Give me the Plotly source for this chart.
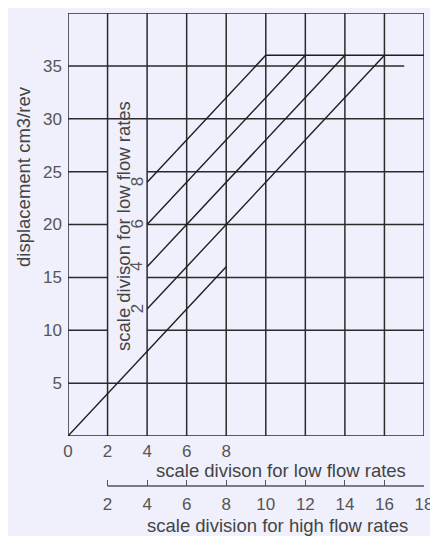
import plotly.graph_objects as go

# ---------------- data ----------------
x_grid = [0, 2, 4, 6, 8, 10, 12, 14, 16, 18]
low_tick_text = ["0", "2", "4", "6", "8", "", "", "", "", ""]
high_tick_vals = [2, 4, 6, 8, 10, 12, 14, 16, 18]
y_tick_vals = [5, 10, 15, 20, 25, 30, 35]
y_range = [0, 40]
h_grid_y = [0, 5, 10, 15, 20, 25, 30, 35, 40]
gap_rows = [10, 15, 20, 25]          # rows interrupted by the inner scale title
gap_cell = [2, 4]
short_row = 35                        # this row stops before the right border
short_row_end = 17

# diagonal scale lines (start point -> end point)
diag_x0 = [0, 4, 4, 4, 4]
diag_y0 = [0, 12, 16, 20, 24]
diag_x1 = [8, 16, 14, 12, 10]
diag_y1 = [16, 36, 36, 36, 36]
cap_y = 36
cap_x = [10, 18]

# inner (rotated) low-flow scale labels
inner_labels = ["2", "4", "6", "8"]
inner_x = [4, 4, 4, 4]
inner_y = [12, 16, 20, 24]

ink = "#2b2b2b"
txt = "#555555"
bg = "#eff0fb"
font = "Liberation Sans, Arial, sans-serif"

fig = go.Figure()

# vertical grid lines
vx, vy = [], []
for x in x_grid:
    vx += [x, x, None]
    vy += [y_range[0], y_range[1], None]
fig.add_trace(go.Scatter(x=vx, y=vy, mode="lines",
                         line=dict(color=ink, width=1.5),
                         hoverinfo="skip", showlegend=False, cliponaxis=False))

# horizontal grid lines
hx, hy = [], []
for y in h_grid_y:
    if y in gap_rows:
        segs = [(x_grid[0], gap_cell[0]), (gap_cell[1], x_grid[-1])]
    elif y == short_row:
        segs = [(x_grid[0], short_row_end)]
    else:
        segs = [(x_grid[0], x_grid[-1])]
    for a, b in segs:
        hx += [a, b, None]
        hy += [y, y, None]
fig.add_trace(go.Scatter(x=hx, y=hy, mode="lines",
                         line=dict(color=ink, width=1.5),
                         hoverinfo="skip", showlegend=False, cliponaxis=False))

# diagonal lines
dx, dy = [], []
for a, b, c, d in zip(diag_x0, diag_y0, diag_x1, diag_y1):
    dx += [a, c, None]
    dy += [b, d, None]
dx += [cap_x[0], cap_x[1], None]
dy += [cap_y, cap_y, None]
fig.add_trace(go.Scatter(x=dx, y=dy, mode="lines",
                         line=dict(color="#1e1e1e", width=1.4),
                         hoverinfo="skip", showlegend=False, cliponaxis=False))

# invisible trace to activate the second x-axis
fig.add_trace(go.Scatter(x=[high_tick_vals[0], high_tick_vals[-1]], y=[0, 0],
                         xaxis="x2", mode="markers", opacity=0,
                         hoverinfo="skip", showlegend=False))

# ----------- layout (screen px, compensating the 8px page margin) -----------
OFF = 8
W, H = 438 - OFF, 536 - OFF
plot_left, plot_right, plot_top, plot_bottom = 68 - OFF, 424 - OFF, 13 - OFF, 436 - OFF
ml, mr, mt, mb = plot_left, W - plot_right, plot_top, 0
paper_w = W - ml - mr
paper_h = H - mt - mb


def px_x(sx):
    return (sx - OFF - ml) / paper_w


def px_y(sy):
    return (H - mb - (sy - OFF)) / paper_h


y_dom0 = (H - mb - plot_bottom) / paper_h
axis2_pos = px_y(486)

fig.update_layout(
    template="none",
    width=W, height=H,
    margin=dict(l=ml, r=mr, t=mt, b=mb, autoexpand=False),
    paper_bgcolor=bg, plot_bgcolor=bg,
    font=dict(family=font, color=txt, size=17),
    xaxis=dict(range=[0, 18], tickvals=x_grid, ticktext=low_tick_text,
               showgrid=False, zeroline=False, showline=False, ticks="",
               automargin=False, ticklabelstandoff=3,
               tickfont=dict(size=17, color=txt), anchor="y"),
    xaxis2=dict(range=[0, 18], overlaying="x", anchor="free",
                position=axis2_pos, tickvals=high_tick_vals,
                ticks="inside", ticklen=6, tickwidth=1.3, tickcolor=txt,
                showgrid=False, zeroline=False, showline=False,
                automargin=False, ticklabelstandoff=6,
                tickfont=dict(size=17, color=txt)),
    yaxis=dict(range=y_range, domain=[y_dom0, 1], tickvals=y_tick_vals,
               showgrid=False, zeroline=False, showline=False, ticks="",
               automargin=False, ticklabelstandoff=5,
               tickfont=dict(size=17, color=txt)),
)

# second scale axis line
fig.add_shape(type="line", xref="x2", yref="paper",
              x0=high_tick_vals[0], x1=high_tick_vals[-1],
              y0=axis2_pos, y1=axis2_pos,
              line=dict(color=txt, width=1.5))

# titles
title_font = dict(size=18.5, color="#444444")
common = dict(xref="paper", yref="paper", showarrow=False, font=title_font,
              xanchor="center", yanchor="middle")
fig.add_annotation(text="scale divison for low flow rates",
                   x=px_x(281), y=px_y(470), **common)
fig.add_annotation(text="scale division for high flow rates",
                   x=px_x(277), y=px_y(525), **common)
fig.add_annotation(text="displacement cm3/rev",
                   x=px_x(23), y=px_y(177), textangle=-90, **common)
fig.add_annotation(text="scale divison for low flow rates",
                   x=px_x(123), y=px_y(226), textangle=-90, **common)

for lab, x, y in zip(inner_labels, inner_x, inner_y):
    fig.add_annotation(text=lab, xref="x", yref="y", x=x, y=y, xshift=-10,
                       xanchor="center", yanchor="middle",
                       textangle=-90, showarrow=False,
                       font=dict(size=17, color=txt))

fig.write_html("out.html")
